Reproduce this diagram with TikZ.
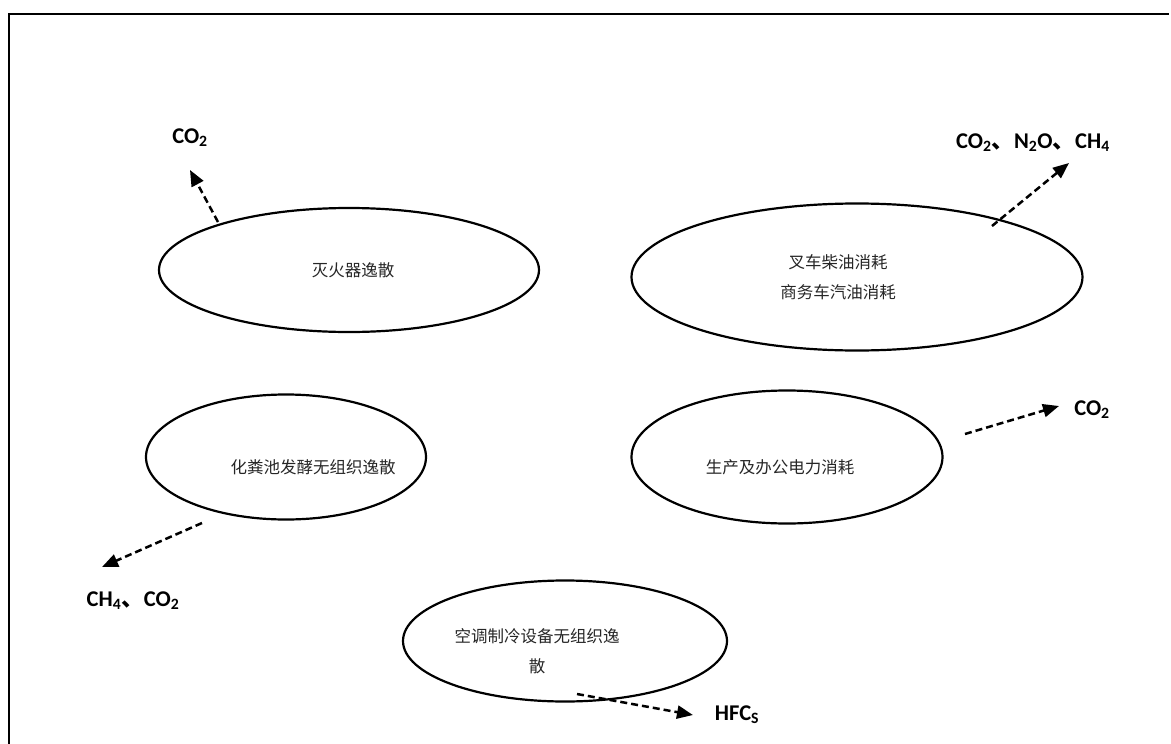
\documentclass[tikz,border=0pt]{standalone}
\usepackage{fontspec}
\setmainfont{Carlito}
\newfontfamily\cjk{Noto Sans CJK SC}
\usetikzlibrary{arrows.meta,shapes.geometric}
\begin{document}
\begin{tikzpicture}[x=1pt,y=-1pt,
  oval/.style={draw,line width=2.2pt,ellipse},
  ctext/.style={font=\cjk\fontsize{16.5}{30}\selectfont,align=center,text=black!85},
  gas/.style={font=\bfseries\fontsize{22.5}{26}\selectfont},
  emit/.style={line width=2.5pt,dash pattern=on 7pt off 4pt,-{Triangle[length=16pt,width=13pt]}}]
\useasboundingbox (0,0) rectangle (1171,744);
\draw[line width=2.5pt] (9,744) -- (9,14) -- (1169,14);
% ellipses
\node[oval,minimum width=380pt,minimum height=124pt] (e1) at (349,270) {};
\node[oval,minimum width=451pt,minimum height=147pt] (e2) at (857,277) {};
\node[oval,minimum width=280pt,minimum height=125pt] (e3) at (286,457) {};
\node[oval,minimum width=311pt,minimum height=133pt] (e4) at (787,457) {};
\node[oval,minimum width=324pt,minimum height=121pt] (e5) at (565,641) {};
% texts
\node[ctext] (t1) at (353,270) {灭火器逸散};
\node[ctext] (t2) at (838,277) {叉车柴油消耗\\商务车汽油消耗};
\node[ctext] (t3) at (313,467) {化粪池发酵无组织逸散};
\node[ctext] (t4) at (780,467) {生产及办公电力消耗};
\node[ctext] (t5) at (537,651) {空调制冷设备无组织逸\\散};
% gas labels
\node[gas] (g1) at (190,138) {CO\textsubscript{2}};
\node[gas] (g2) at (1033,143) {CO\textsubscript{2}{\cjk 、}N\textsubscript{2}O{\cjk 、}CH\textsubscript{4}};
\node[gas] (g4) at (1092,410) {CO\textsubscript{2}};
\node[gas] (g3) at (133,601) {CH\textsubscript{4}{\cjk 、}CO\textsubscript{2}};
\node[gas] (g5) at (737,715) {HFC\textsubscript{S}};
% arrow anchors
\coordinate (a1s) at (218,222); \coordinate (a1e) at (190,170);
\coordinate (a2s) at (992,226); \coordinate (a2e) at (1069,163);
\coordinate (a4s) at (965,434); \coordinate (a4e) at (1059,406);
\coordinate (a3s) at (202,523); \coordinate (a3e) at (102,567);
\coordinate (a5s) at (577,694); \coordinate (a5e) at (693,715);
\draw[emit] (a1s) -- (a1e);
\draw[emit] (a2s) -- (a2e);
\draw[emit] (a4s) -- (a4e);
\draw[emit] (a3s) -- (a3e);
\draw[emit] (a5s) -- (a5e);
\end{tikzpicture}
\end{document}
